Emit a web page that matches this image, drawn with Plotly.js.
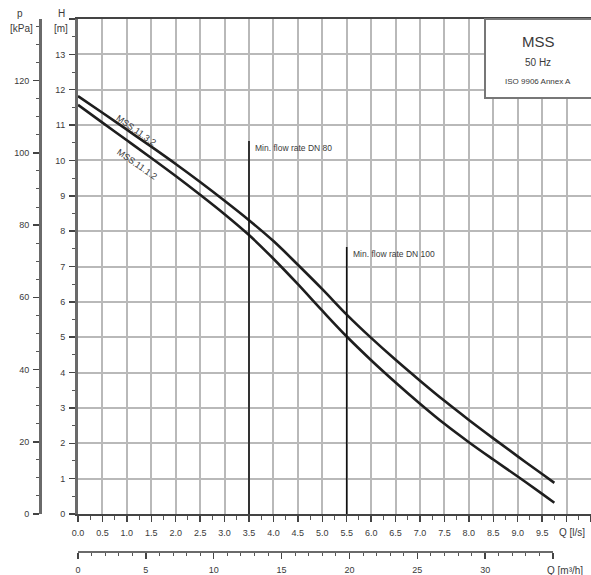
<!DOCTYPE html>
<html>
<head>
<meta charset="utf-8">
<script src="https://cdn.plot.ly/plotly-3.0.1.min.js"></script>
<style>html,body{margin:0;padding:0;background:#fff;}#chart{width:591px;height:575px;}</style>
</head>
<body>
<div id="chart"></div>
<script>
// ---- data ----
const flowLs = [0, 0.5, 1, 1.5, 2, 2.5, 3, 3.5, 4, 4.5, 5, 5.5, 6, 6.5, 7, 7.5, 8, 8.5, 9, 9.5, 9.75];
const headMSS1132 = [11.82, 11.35, 10.87, 10.39, 9.9, 9.39, 8.86, 8.31, 7.72, 7.05, 6.36, 5.64, 4.98, 4.36, 3.77, 3.2, 2.66, 2.14, 1.63, 1.13, 0.88];
const headMSS1112 = [11.57, 11.07, 10.57, 10.07, 9.56, 9.03, 8.48, 7.89, 7.22, 6.5, 5.75, 5.02, 4.35, 3.72, 3.12, 2.55, 2.03, 1.54, 1.06, 0.57, 0.32];
const seriesNames = ['MSS.11.3.2', 'MSS.11.1.2'];
const flowTickStep = 0.5;
const flowHiddenLabels = {'10.0': '', '10.5': ''};
const headTickStep = 1;
const headHiddenLabels = {'14': ''};
const pressureTicks = [0, 20, 40, 60, 80, 100, 120];
const flowM3hTicks = [0, 5, 10, 15, 20, 25, 30, 35];
const flowM3hText = ['0','5','10','15','20','25','30',''];
const minFlowLabels = ['Min. flow rate DN 80', 'Min. flow rate DN 100'];
const minFlowQ = [3.5, 5.5];
const minFlowTop = [10.55, 7.55];
const kPaPerMetre = 9.79;
const m3hPerLs = 3.6;
const m3hAxisEnd = 35;

// ---- geometry ----
const W = 591, H = 575;
const plotL = 78, plotTop = 19, plotBottom = 514;
const xMax = 10.5, yMax = 14;
const px = v => v / W, py = v => (H - v) / H;
const pxPerLs = (W - plotL) / xMax;

const font = 'Liberation Sans, Arial, sans-serif';
const txt = '#3a3a3a';

const traces = [
  // empty helper so the secondary (kPa, m³/h) axes get drawn on their own subplot
  {x: [], y: [], xaxis: 'x2', yaxis: 'y2', mode: 'lines', hoverinfo: 'skip'},
  {x: flowLs, y: headMSS1132, name: seriesNames[0], mode: 'lines',
   line: {color: '#1e1e1e', width: 2.6, shape: 'spline', smoothing: 1}, hoverinfo: 'skip'},
  {x: flowLs, y: headMSS1112, name: seriesNames[1], mode: 'lines',
   line: {color: '#1e1e1e', width: 2.6, shape: 'spline', smoothing: 1}, hoverinfo: 'skip'}
];
minFlowQ.forEach((q, i) => {
  traces.push({x: [q, q], y: [0, minFlowTop[i]], mode: 'lines',
    line: {color: '#111', width: 1.6}, hoverinfo: 'skip', showlegend: false});
});

function ann(xp, yp, text, size, anchor) {
  return {x: px(xp), y: py(yp), xref: 'paper', yref: 'paper', text: text, showarrow: false,
    xanchor: anchor || 'center', yanchor: 'middle', font: {family: font, size: size, color: txt}};
}
const annotations = [
  {x: 1.18, y: 10.86, xref: 'x', yref: 'y', text: seriesNames[0], showarrow: false, textangle: 35,
   font: {family: font, size: 9, color: txt}},
  {x: 1.2, y: 9.9, xref: 'x', yref: 'y', text: seriesNames[1], showarrow: false, textangle: 35,
   font: {family: font, size: 9, color: txt}},
  ann(20, 14, 'p', 10), ann(21, 29, '[kPa]', 10),
  ann(61, 14, 'H', 10), ann(61, 29, '[m]', 10),
  ann(557, 532, 'Q [l/s]', 10, 'left'),
  ann(545, 570, 'Q [m³/h]', 10, 'left'),
  ann(538, 41, 'MSS', 15), ann(538, 63, '50 Hz', 10), ann(538, 81, 'ISO 9906 Annex A', 8)
];
minFlowQ.forEach((q, i) => {
  annotations.push({x: q, y: minFlowTop[i] - 0.2, xref: 'x', yref: 'y', text: minFlowLabels[i],
    showarrow: false, xanchor: 'left', yanchor: 'middle', xshift: 4,
    font: {family: font, size: 8.5, color: txt}});
});

const axisCol = '#6a6a6a';
const gridCol = '#b9b9b9';
const m3hRight = plotL + (m3hAxisEnd / m3hPerLs) * pxPerLs;
const layout = {
  width: W, height: H,
  margin: {l: 0, r: 0, t: 0, b: 0, pad: 0},
  paper_bgcolor: '#fff', plot_bgcolor: 'rgba(0,0,0,0)',
  showlegend: false,
  font: {family: font, size: 9, color: txt},
  xaxis: {
    domain: [px(plotL), 1], range: [0, xMax], anchor: 'y',
    tickmode: 'linear', tick0: 0, dtick: flowTickStep, tickformat: '.1f', labelalias: flowHiddenLabels,
    ticks: 'outside', ticklen: 6, tickwidth: 1.5, tickcolor: '#444', ticklabelstandoff: 3,
    minor: {dtick: 0.25, tick0: 0, ticks: 'outside', ticklen: 4, tickwidth: 1, tickcolor: '#555', showgrid: false},
    showgrid: true, gridcolor: gridCol, gridwidth: 2,
    showline: true, linecolor: '#444', linewidth: 2, mirror: true,
    zeroline: false, tickfont: {family: font, size: 9, color: txt}
  },
  yaxis: {
    domain: [py(plotBottom), py(plotTop)], range: [0, yMax], anchor: 'x',
    tickmode: 'linear', tick0: 0, dtick: headTickStep, labelalias: headHiddenLabels,
    ticks: 'outside', ticklen: 6, tickwidth: 1.5, tickcolor: '#444', ticklabelstandoff: 2,
    minor: {dtick: 0.5, tick0: 0, ticks: 'outside', ticklen: 3, tickwidth: 1, tickcolor: '#555', showgrid: false},
    showgrid: true, gridcolor: gridCol, gridwidth: 2,
    showline: true, linecolor: axisCol, linewidth: 3,
    zeroline: false, tickfont: {family: font, size: 9, color: txt}
  },
  yaxis2: {
    domain: [py(plotBottom), py(plotTop)], anchor: 'free', position: px(40), side: 'left',
    range: [0, yMax * kPaPerMetre],
    tickmode: 'array', tickvals: pressureTicks,
    ticks: 'outside', ticklen: 6, tickwidth: 1.5, tickcolor: '#444', ticklabelstandoff: 2,
    minor: {dtick: 5, tick0: 0, ticks: 'outside', ticklen: 3, tickwidth: 1, tickcolor: '#555', showgrid: false},
    showgrid: false, showline: true, linecolor: axisCol, linewidth: 3,
    zeroline: false, tickfont: {family: font, size: 9, color: txt}
  },
  xaxis2: {
    domain: [px(plotL), px(m3hRight)], anchor: 'free', position: py(552), side: 'bottom',
    range: [0, m3hAxisEnd],
    tickmode: 'array', tickvals: flowM3hTicks, ticktext: flowM3hText,
    ticks: 'outside', ticklen: 6, tickwidth: 1.5, tickcolor: '#444', ticklabelstandoff: 3,
    minor: {dtick: 1, tick0: 0, ticks: 'outside', ticklen: 3, tickwidth: 1, tickcolor: '#555', showgrid: false},
    showgrid: false, showline: true, linecolor: axisCol, linewidth: 2, zeroline: false,
    tickfont: {family: font, size: 9, color: txt}
  },
  shapes: [
    {type: 'rect', xref: 'paper', yref: 'paper', x0: px(485), x1: px(600), y0: py(98), y1: py(plotTop),
     fillcolor: '#fff', line: {color: '#777', width: 2}, layer: 'above'}
  ],
  annotations: annotations
};

Plotly.newPlot('chart', traces, layout, {displayModeBar: false, staticPlot: true});
</script>
</body>
</html>
